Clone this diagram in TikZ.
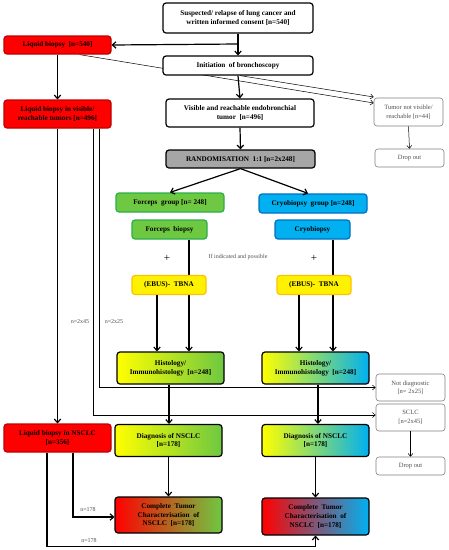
\documentclass[tikz,border=0pt]{standalone}
\usepackage{fontspec}
\setmainfont{Liberation Serif}
\usetikzlibrary{arrows.meta,backgrounds}
\definecolor{lbgreen}{RGB}{110,200,65}
\definecolor{dkgreen}{RGB}{40,175,75}
\definecolor{lbblue}{RGB}{0,176,240}
\definecolor{dkblue}{RGB}{0,112,192}
\definecolor{ebusbd}{RGB}{255,192,0}
\definecolor{randgray}{RGB}{166,166,166}
\definecolor{txtgray}{RGB}{80,80,80}
\begin{document}
\begin{tikzpicture}[x=1pt,y=-1pt,
  dims/.style 2 args={minimum width=#1pt,minimum height=#2pt},
  box/.style={draw,line width=1.2pt,rounded corners=3pt,align=center,inner sep=1pt,
    font=\bfseries\fontsize{7.2}{8.8}\selectfont},
  whitebox/.style={box,fill=white},
  redbox/.style={box,draw=red!75!black,fill=red},
  greenbox/.style={box,draw=dkgreen,fill=lbgreen},
  bluebox/.style={box,draw=dkblue,fill=lbblue},
  ebusbox/.style={box,draw=ebusbd,fill=yellow},
  randbox/.style={box,fill=randgray},
  yg/.style={box,left color=yellow,right color=lbgreen},
  yb/.style={box,left color=yellow,middle color=yellow!12!white,right color=lbblue},
  ryg/.style={box,left color=red,middle color=yellow,right color=lbgreen},
  ryb/.style={box,left color=red,middle color=yellow,right color=lbblue},
  outbox/.style={draw=gray,line width=0.6pt,rounded corners=3pt,align=center,fill=white,
    text=txtgray,font=\fontsize{6.5}{8.5}\selectfont,inner sep=1pt},
  arr/.style={line width=1.2pt,-{Straight Barb[length=3.5pt,width=6.5pt]}},
  thinarr/.style={line width=0.5pt,-{Straight Barb[length=3pt,width=5pt]}},
  lbl/.style={text=txtgray,font=\fontsize{6}{7}\selectfont,inner sep=1pt}]
\useasboundingbox (0,0) rectangle (449,550);

% main column
\node[whitebox,dims={150}{30}] (start) at (238,18) {Suspected/ relapse of lung cancer and\\ written informed consent [n=540]};
\node[whitebox,dims={150}{19}] (init) at (238,65.5) {Initiation~ of bronchoscopy};
\node[whitebox,dims={148}{28}] (visible) at (240,113) {Visible and reachable endobronchial\\ tumor~ [n=496]};
\node[randbox,dims={149}{18}] (rand) at (240.5,159) {RANDOMISATION~ 1:1 [n=2x248]};

% liquid biopsy column
\node[redbox,dims={107}{18}] (lb) at (57.5,45) {Liquid biopsy~ [n=540]};
\node[redbox,dims={107}{28}] (lbvis) at (57.5,114) {Liquid biopsy in visible/\\ reachable tumors [n=496]};
\node[redbox,dims={107}{28}] (lbnsclc) at (57.5,438) {Liquid biopsy in NSCLC\\ {}[n=356]};

% forceps arm
\node[greenbox,dims={108}{19}] (fgroup) at (170,202.5) {Forceps~ group [n= 248]};
\node[greenbox,dims={75}{19}] (fbiop) at (169.5,229.5) {Forceps~ biopsy};
\node[ebusbox,dims={74}{19}] (ebusL) at (169,285) {(EBUS)-~ TBNA};
\node[yg,dims={107}{32}] (histL) at (170.5,368) {Histology/\\ Immunohistology~ [n=248]};
\node[yg,dims={107}{32}] (diagL) at (168.5,440.5) {Diagnosis of NSCLC\\ {}[n=178]};
\node[ryg,dims={107}{36}] (compL) at (168.5,515) {Complete~ Tumor\\ Characterisation~ of\\ NSCLC~ [n=178]};

% cryo arm
\node[bluebox,dims={108}{19}] (cgroup) at (313,203.5) {Cryobiopsy~ group [n=248]};
\node[bluebox,dims={75}{19}] (cbiop) at (312.5,229.5) {Cryobiopsy};
\node[ebusbox,dims={74}{19}] (ebusR) at (314,285) {(EBUS)-~ TBNA};
\node[yb,dims={107}{32}] (histR) at (315.5,368) {Histology/\\ Immunohistology~ [n=248]};
\node[yb,dims={107}{32}] (diagR) at (315.5,440.5) {Diagnosis of NSCLC\\ {}[n=178]};
\node[ryb,dims={107}{37}] (compR) at (315.5,516.5) {Complete~ Tumor\\ Characterisation~ of\\ NSCLC~ [n=178]};

% drop outs
\node[outbox,dims={69}{28}] (notvis) at (408.5,112) {Tumor not visible/\\ reachable [n=44]};
\node[outbox,dims={69}{18}] (drop1) at (409.5,158) {Drop out};
\node[outbox,dims={69}{27}] (notdiag) at (410.5,387.5) {Not diagnostic\\ {}[n= 2x25]};
\node[outbox,dims={69}{27}] (sclc) at (410.5,417.5) {SCLC\\ {}[n=2x45]};
\node[outbox,dims={69}{18}] (drop2) at (410.5,466) {Drop out};

% texts
\node[font=\fontsize{11}{11}\selectfont] (plusL) at (167,258) {+};
\node[font=\fontsize{11}{11}\selectfont] (plusR) at (314,258) {+};
\node[lbl] (ifpos) at (238,257) {If indicated and possible};
\node[lbl] (n45) at (80,322) {n=2x45};
\node[lbl] (n25) at (114,322) {n=2x25};
\node[lbl] (n178a) at (88,510) {n=178};
\node[lbl] (n178b) at (89,541) {n=178};

% arrows
\coordinate (split) at (238,44);
\draw[arr] (start.south) -- (init.north);
\draw[arr] (split) -- (lb.east);
\draw[arr] (init.south) -- (visible.north);
\draw[arr] (visible.south) -- (rand.north);
\draw[arr] (lb.south) -- (lbvis.north);
\draw[arr] (lbvis.south) -- (lbnsclc.north);
\begin{scope}[on background layer]
\draw[thinarr] ([xshift=22pt]lb.south) -- ([yshift=9pt]notvis.west);
\end{scope}
\draw[thinarr] ([xshift=2pt]init.south) -- ([yshift=15pt]notvis.west);
\draw[thinarr] (notvis.south) -- (drop1.north);
\draw[arr] (rand.south) -- (fgroup.north);
\draw[arr] (rand.south) -- ([xshift=-5pt]cgroup.north);
\begin{scope}[on background layer]
\draw[arr] ([xshift=19.5pt]fbiop.south) -- ([xshift=19.5pt]fbiop.south |- histL.north);
\draw[arr] ([xshift=20.5pt]cbiop.south) -- ([xshift=20.5pt]cbiop.south |- histR.north);
\end{scope}
\draw[arr] ([xshift=-12pt]ebusL.south) -- ([xshift=-12pt]ebusL.south |- histL.north);
\draw[arr] ([xshift=-15pt]ebusR.south) -- ([xshift=-15pt]ebusR.south |- histR.north);
\draw[thinarr] ([xshift=41.5pt]lbvis.south) |- (notdiag.west);
\draw[thinarr] ([xshift=35.5pt]lbvis.south) |- ([yshift=2.5pt]sclc.west);
\draw[arr] ([xshift=-1.5pt]histL.south) -- ([xshift=-1.5pt]histL.south |- diagL.north);
\draw[arr] ([xshift=2.5pt]histR.south) -- ([xshift=2.5pt]histR.south |- diagR.north);
\draw[arr] (diagL.south) -- (compL.north);
\draw[arr] (diagR.south) -- (compR.north);
\draw[thinarr] (sclc.south) -- (drop2.north);
\draw[arr] ([xshift=15.5pt]lbnsclc.south) |- ([yshift=-2pt]compL.west);
\draw[arr] ([xshift=-10.5pt]lbnsclc.south) -- ++(0,94) -| (compR.south);
\end{tikzpicture}
\end{document}
